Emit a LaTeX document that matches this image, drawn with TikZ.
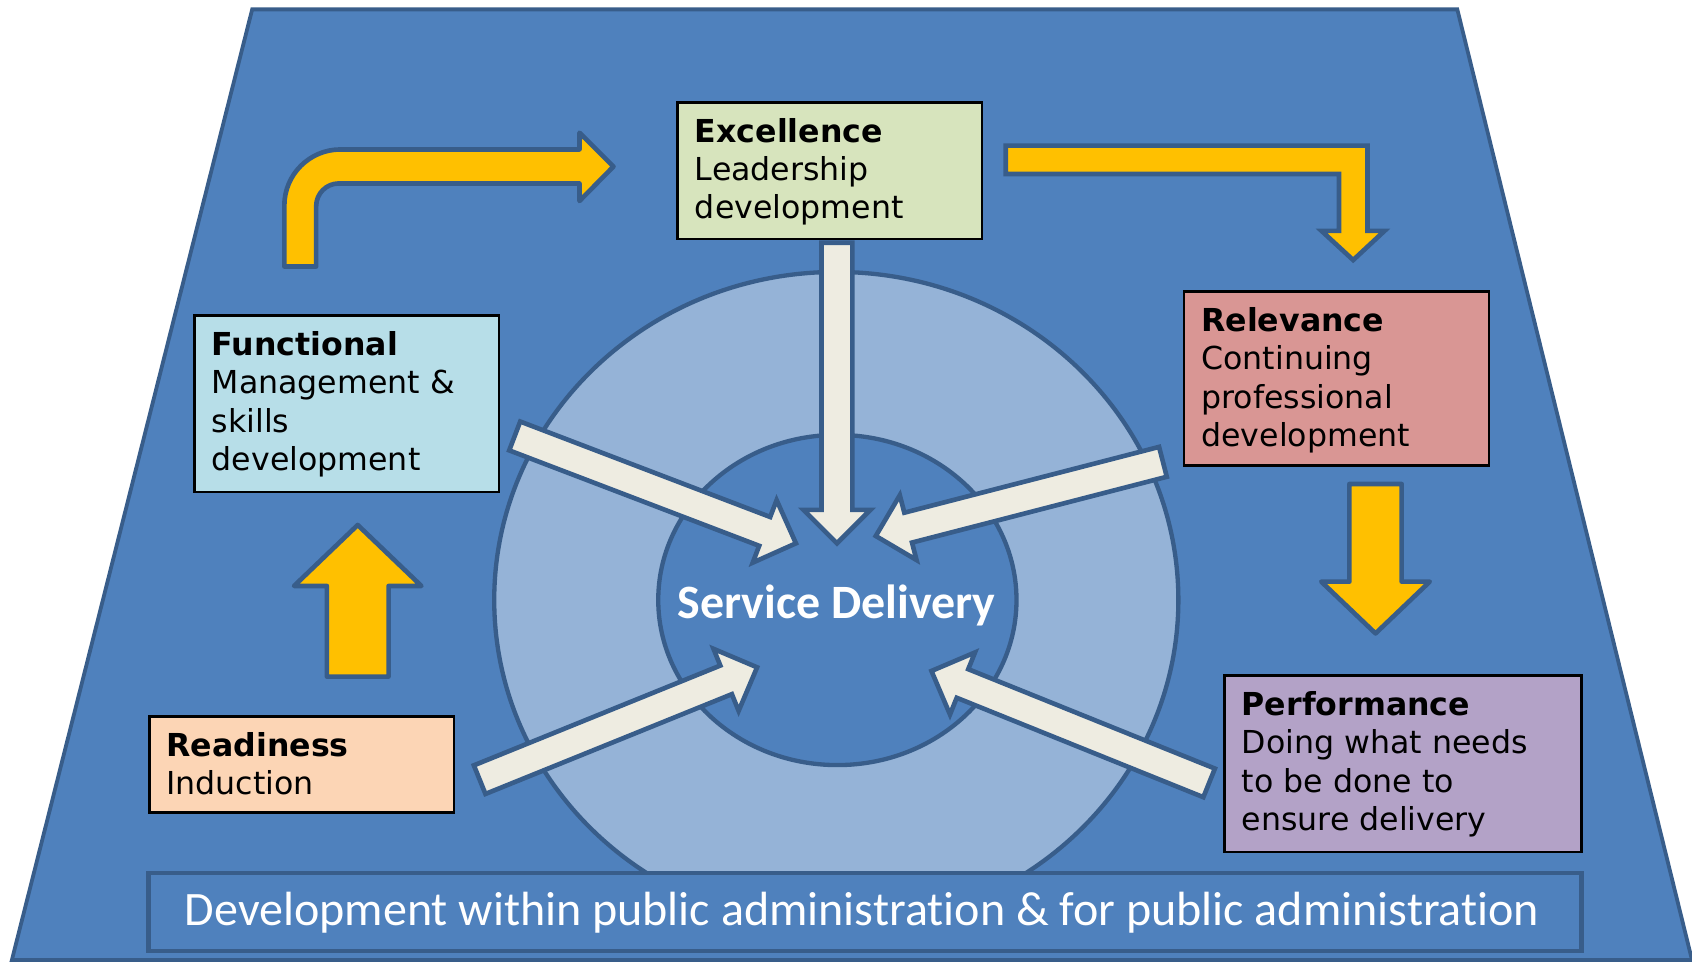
\documentclass[tikz,border=0pt]{standalone}
\usepackage{fontspec}
\usetikzlibrary{calc,shapes.geometric}
\newfontfamily\verd{DejaVu Sans}
\newfontfamily\calib[Ligatures={NoCommon}]{Carlito}
\definecolor{bgblue}{HTML}{4F81BD}
\definecolor{edgeblue}{HTML}{385D8A}
\definecolor{ringblue}{HTML}{95B3D7}
\definecolor{gold}{HTML}{FFC000}
\definecolor{cream}{HTML}{EEECE1}
\definecolor{excfill}{HTML}{D7E4BD}
\definecolor{funfill}{HTML}{B7DEE8}
\definecolor{relfill}{HTML}{D99694}
\definecolor{reafill}{HTML}{FCD5B5}
\definecolor{perfill}{HTML}{B3A2C7}
% block arrow: #1 style, #2 tail, #3 tip, #4 half shaft, #5 half head, #6 head length
\newcommand{\blockarr}[6]{%
  \coordinate (ba-b) at ($(#3)!#6!(#2)$);
  \draw[#1] ($(#2)!#4!90:(#3)$) -- ($(ba-b)!#4!90:(#3)$) -- ($(ba-b)!#5!90:(#3)$) -- (#3)
    -- ($(ba-b)!#5!-90:(#3)$) -- ($(ba-b)!#4!-90:(#3)$) -- ($(#2)!#4!-90:(#3)$) -- cycle;}
\begin{document}
\begin{tikzpicture}[x=1pt,y=-1pt,
  stagebox/.style={draw=black, line width=2.5pt, rectangle, inner sep=0pt, anchor=north west},
  boxtext/.style={anchor=base west, inner sep=0pt, font=\verd\fontsize{29.3}{35.5}\selectfont},
  goldarrow/.style={fill=gold, draw=edgeblue, line width=4.3pt, line join=round},
  creamarrow/.style={fill=cream, draw=edgeblue, line width=4.3pt, line join=miter},
  ringstyle/.style={ellipse, draw=edgeblue, line width=4pt, inner sep=0pt},
]
\useasboundingbox (0,0) rectangle (1568,891);
% background trapezoid
\draw[fill=bgblue, draw=edgeblue, line width=3.5pt] (233.7,8.7) -- (1350.5,8.7) -- (1568,889.7) -- (11,889.7) -- cycle;
% rings
\node[ringstyle, fill=ringblue, minimum width=634pt, minimum height=608pt] (ring) at (775,556) {};
\node[ringstyle, fill=bgblue, minimum width=332pt, minimum height=306pt] (core) at (776,556) {};
% bottom bar
\node[draw=edgeblue, fill=bgblue, line width=4pt, rectangle, inner sep=0pt, anchor=north west,
  minimum width=1328pt, minimum height=72pt] (bar) at (135.6,807) {};
\node[anchor=base, inner sep=0pt, text=white, font=\calib\fontsize{44.5}{50}\selectfont] (bartext)
  at (799,857.3) {Development within public administration \& for public administration};
% cream arrows into the centre
\coordinate (xT) at (775.6,225);   \coordinate (xH) at (775.6,503.5);
\coordinate (fT) at (477,404);     \coordinate (fH) at (737.6,503.5);
\coordinate (rT) at (1077.7,428);  \coordinate (rH) at (811.6,496.7);
\coordinate (iT) at (444.5,722.5); \coordinate (iH) at (701.6,618.4);
\coordinate (pT) at (1120.5,725.5);\coordinate (pH) at (863.2,621.8);
\blockarr{creamarrow}{xT}{xH}{14.3pt}{31pt}{31pt}
\blockarr{creamarrow}{fT}{fH}{14.3pt}{31pt}{31pt}
\blockarr{creamarrow}{rT}{rH}{14.3pt}{31pt}{31pt}
\blockarr{creamarrow}{iT}{iH}{14.3pt}{31pt}{31pt}
\blockarr{creamarrow}{pT}{pH}{14.3pt}{31pt}{31pt}
\node[anchor=base, inner sep=0pt, text=white, font=\calib\bfseries\fontsize{44.4}{50}\selectfont] (sd)
  at (775.25,573) {Service Delivery};
% gold arrows
\coordinate (upT) at (331.5,627);   \coordinate (upH) at (331.5,486.5);
\coordinate (dnT) at (1274.7,448.5); \coordinate (dnH) at (1274.7,587);
\blockarr{goldarrow}{upT}{upH}{28.6pt}{59pt}{56.5pt}
\blockarr{goldarrow}{dnT}{dnH}{24.2pt}{50.3pt}{48pt}
\draw[goldarrow] (263.5,247) -- (263.5,190.5) .. controls (263.5,161.8) and (286.8,138.5) .. (315.5,138.5)
  -- (537,138.5) -- (537,123) -- (568.5,154.3) -- (537,186.3) -- (537,170) -- (314,170)
  .. controls (302.4,170) and (293,179.4) .. (293,191) -- (293,247) -- cycle;
\draw[goldarrow, line join=miter] (932,135) -- (1267.2,135) -- (1267.2,214) -- (1283,214) -- (1254,241)
  -- (1224.7,214) -- (1240.9,214) -- (1240.9,161.3) -- (932,161.3) -- cycle;
% stage boxes
\node[stagebox, fill=excfill, minimum width=282.1pt, minimum height=126.6pt] (exc) at (626.8,93.6) {};
\node[stagebox, fill=funfill, minimum width=282.2pt, minimum height=163.4pt] (fun) at (179.1,291.3) {};
\node[stagebox, fill=relfill, minimum width=282.4pt, minimum height=161pt] (rel) at (1096.1,269) {};
\node[stagebox, fill=reafill, minimum width=282.3pt, minimum height=89pt] (rea) at (137.1,662.6) {};
\node[stagebox, fill=perfill, minimum width=330.9pt, minimum height=163.4pt] (per) at (1133.6,624.9) {};
\node[boxtext] (exct) at ($(exc.north west)+(17,38.3)$)
  {\parbox[t]{300pt}{\raggedright\textbf{Excellence}\\Leadership\\development}};
\node[boxtext] (funt) at ($(fun.north west)+(17,38.3)$)
  {\parbox[t]{300pt}{\raggedright\textbf{Functional}\\Management \&\\skills\\development}};
\node[boxtext] (relt) at ($(rel.north west)+(17,38.3)$)
  {\parbox[t]{300pt}{\raggedright\textbf{Relevance}\\Continuing\\professional\\development}};
\node[boxtext] (reat) at ($(rea.north west)+(17,38.3)$)
  {\parbox[t]{300pt}{\raggedright\textbf{Readiness}\\Induction}};
\node[boxtext] (pert) at ($(per.north west)+(17,38.3)$)
  {\parbox[t]{320pt}{\raggedright\textbf{Performance}\\Doing what needs\\to be done to\\ensure delivery}};
\end{tikzpicture}
\end{document}
